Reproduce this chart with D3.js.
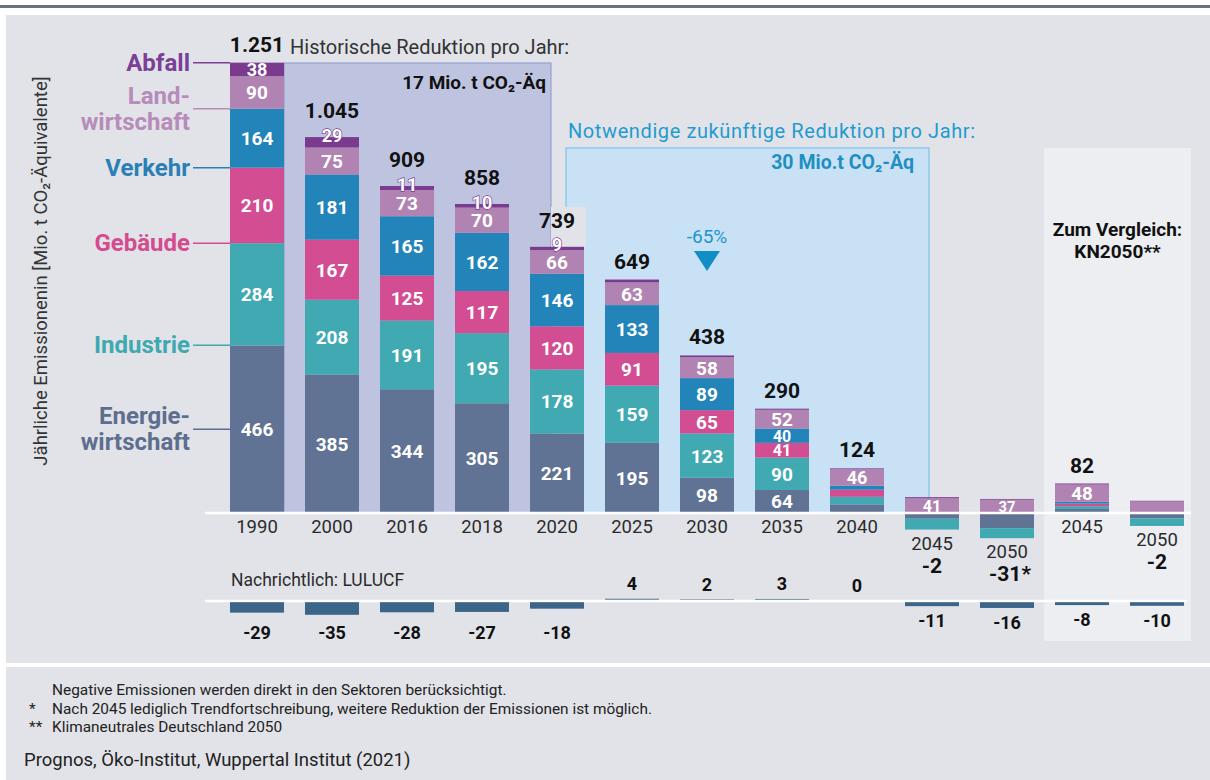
<!DOCTYPE html>
<html><head><meta charset="utf-8">
<script src="https://cdn.jsdelivr.net/npm/d3@7"></script>
<style>
body{margin:0;background:#fff;}
svg{display:block;font-family:Roboto,"Open Sans",sans-serif;}
</style></head><body>
<svg width="1210" height="780"></svg>
<script>
// Kategorien (KN = Vergleichsszenario KN2050)
const categories = ['1990','2000','2016','2018','2020','2025','2030','2035','2040','2045','2050','KN2045','KN2050'];
const yearLabels = ['1990','2000','2016','2018','2020','2025','2030','2035','2040','2045','2050','2045','2050'];
const historic = ['1990','2000','2016','2018','2020'];

// Sektoren, von unten nach oben
const sectors = ['Energiewirtschaft','Industrie','Gebäude','Verkehr','Landwirtschaft','Abfall'];
const sectorNames = [['Energie-','wirtschaft'],['Industrie'],['Gebäude'],['Verkehr'],['Land-','wirtschaft'],['Abfall']];
const sectorColors = ['#607394','#40a9b2','#d24d92','#2284b8','#b083b2','#7a3b8f'];
const sectorTextColors = ['#5d6e8e','#3fa9b0','#d44b8f','#2a80b6','#b78bba','#7b3f98'];

// Mio. t CO2-Äq
const energie        = [466,385,344,305,221,195, 98, 64,24,-16,-42,11,-15];
const industrie      = [284,208,191,195,178,159,123, 90,21,-30,-28, 8,-21];
const gebaeude       = [210,167,125,117,120, 91, 65, 41,20,  0,  0, 7,  0];
const verkehr        = [164,181,165,162,146,133, 89, 40,11,  0,  0, 5,  0];
const landwirtschaft = [ 90, 75, 73, 70, 66, 63, 58, 52,46, 41, 37,48, 32];
const abfall         = [ 38, 29, 11, 10,  9,  8,  5,  3, 2,  3,  2, 3,  2];
const totalLabels = ['1.251','1.045','909','858','739','649','438','290','124','-2','-31*','82','-2'];

// Nachrichtlich: LULUCF
const lulucf = [-29,-35,-28,-27,-18,4,2,3,0,-11,-16,-8,-10];

const futureBoxTop = 1015; // Höhe des Kastens "Notwendige Reduktion" in Mio. t

const rows = categories.map((c,i)=>({cat:c,
  'Energiewirtschaft':energie[i],'Industrie':industrie[i],'Gebäude':gebaeude[i],
  'Verkehr':verkehr[i],'Landwirtschaft':landwirtschaft[i],'Abfall':abfall[i]}));

const svg = d3.select('svg');
const baseY = 513, topY = 63, lulucfY = 601;

const x = d3.scaleBand().domain(categories).range([219.5,1194.5]).padding(0);
const cx = c => x(c) + x.bandwidth()/2;
const bw = 54;
const y = d3.scaleLinear().domain([0,1251]).range([baseY,topY]);
const k = y(0) - y(1);
const yL = v => lulucfY - v*k;

// Hintergrund
svg.append('rect').attr('x',0).attr('y',5).attr('width',1210).attr('height',3).attr('fill','#6b737c');
svg.append('rect').attr('x',6).attr('y',15).attr('width',1204).attr('height',648).attr('fill','#e1e3e8');
svg.append('rect').attr('x',6).attr('y',667).attr('width',1204).attr('height',113).attr('fill','#e1e3e8');

// Kästen
svg.append('rect').attr('x',cx('1990')+bw/2).attr('y',y(1251))
  .attr('width',cx('2020')-6-(cx('1990')+bw/2)).attr('height',baseY-y(1251))
  .attr('fill','#bec4e0').attr('stroke','#96a1d2').attr('stroke-width',1.2);
svg.append('rect').attr('x',cx('2020')+9).attr('y',y(futureBoxTop))
  .attr('width',cx('2045')-3-(cx('2020')+9)).attr('height',baseY-y(futureBoxTop))
  .attr('fill','#c9e1f5').attr('stroke','#7cc4ea').attr('stroke-width',1.2);
svg.append('rect').attr('x',cx('KN2045')-38).attr('y',y(futureBoxTop))
  .attr('width',cx('KN2050')+34-(cx('KN2045')-38)).attr('height',641-y(futureBoxTop))
  .attr('fill','#eceef2');

// Stapel
const series = d3.stack().keys(sectors).offset(d3.stackOffsetDiverging)(rows);
const i2020 = categories.indexOf('2020');
const pos = rows.map(r=>d3.sum(sectors,s=>Math.max(r[s],0)));
const neg = rows.map(r=>d3.sum(sectors,s=>Math.min(r[s],0)));

// Hinterlegung hinter "739"
svg.append('rect').attr('x',cx('2020')-6).attr('y',y(pos[i2020])-40)
  .attr('width',bw/2+8).attr('height',40).attr('fill','#e1e3e8');

const g = svg.append('g');
series.forEach((s,j)=>{
  g.append('g').selectAll('rect').data(s).enter().append('rect')
    .attr('x',d=>cx(d.data.cat)-bw/2)
    .attr('y',d=>y(Math.max(d[0],d[1])))
    .attr('width',bw)
    .attr('height',d=>Math.abs(y(d[0])-y(d[1])))
    .attr('fill',sectorColors[j]);
});

// Werte in den Segmenten (nur positive)
series.forEach((s,j)=>{
  if(j===5) return;
  g.append('g').selectAll('text').data(s.filter(d=>d[0]>=0 && d[1]-d[0]>=35)).enter().append('text')
    .attr('x',d=>cx(d.data.cat)).attr('y',d=>(y(d[0])+y(d[1]))/2+0.5)
    .attr('text-anchor','middle').attr('dominant-baseline','central')
    .attr('fill','#fff').attr('font-weight','bold')
    .attr('font-size',d=>Math.min(19,(d[1]-d[0])*k+1.5))
    .text(d=>d[1]-d[0]);
});
// Abfall
const outlined = abfall.map(v=>v>=9 && v*k<13);
series[5].forEach((d,i)=>{
  const v = abfall[i];
  if(v<9) return;
  const t = g.append('text').attr('x',cx(d.data.cat))
    .attr('text-anchor','middle').attr('dominant-baseline','central')
    .attr('font-weight','bold').attr('font-size',18).text(v);
  if(outlined[i]){
    t.attr('y',y(d[1])-2).attr('fill','#fff').attr('stroke','#7a3b8f')
     .attr('stroke-width',1.3).attr('paint-order','stroke');
  } else {
    t.attr('y',(y(d[0])+y(d[1]))/2).attr('fill','#fff');
  }
});

// Nulllinie
svg.append('line').attr('x1',205).attr('x2',1191).attr('y1',baseY).attr('y2',baseY)
  .attr('stroke','#fff').attr('stroke-width',2.5);

// Jahreszahlen und Summen
categories.forEach((c,i)=>{
  const yy = y(neg[i]) + 14;
  svg.append('text').attr('x',cx(c)).attr('y',yy)
    .attr('text-anchor','middle').attr('dominant-baseline','central')
    .attr('fill','#2b2b2b').attr('font-size',18.5).text(yearLabels[i]);
  const lbl = totalLabels[i];
  const ty = lbl.startsWith('-') ? yy + 22 : y(pos[i]) - 18 - (outlined[i]?8:0);
  svg.append('text').attr('x',cx(c)+(lbl.endsWith('*')?3:0)).attr('y',ty)
    .attr('text-anchor','middle').attr('dominant-baseline','central')
    .attr('fill','#111').attr('font-weight','bold').attr('font-size',21).text(lbl);
});

// LULUCF
svg.append('text').attr('x',231).attr('y',580).attr('dominant-baseline','central')
  .attr('fill','#2b2b2b').attr('font-size',17.5).text('Nachrichtlich: LULUCF');
svg.append('line').attr('x1',205).attr('x2',1187).attr('y1',lulucfY).attr('y2',lulucfY)
  .attr('stroke','#fff').attr('stroke-width',2.5);
svg.append('g').selectAll('rect').data(categories.filter((c,i)=>lulucf[i]!==0)).enter().append('rect')
  .attr('x',c=>cx(c)-bw/2)
  .attr('y',c=>{const v=lulucf[categories.indexOf(c)]; return v>0 ? yL(v)-1 : lulucfY+1.2;})
  .attr('width',bw)
  .attr('height',c=>Math.abs(lulucf[categories.indexOf(c)])*k)
  .attr('fill','#3b6589').attr('opacity',c=>lulucf[categories.indexOf(c)]>0?0.6:1);
categories.forEach((c,i)=>{
  const v = lulucf[i];
  let ly;
  if(v>=0) ly = yL(v) - 16;
  else ly = historic.includes(c) ? lulucfY + 31 : yL(v) + 16;
  svg.append('text').attr('x',cx(c)).attr('y',ly)
    .attr('text-anchor','middle').attr('dominant-baseline','central')
    .attr('fill','#111').attr('font-weight','bold').attr('font-size',18).text(v);
});

// Legende links am 1990er Balken
const anchor = [0.5,0,0,0,0,1];
series.forEach((s,j)=>{
  const d = s[0];
  const ly = y(d[0]) + (y(d[1])-y(d[0]))*anchor[j];
  svg.append('line').attr('x1',193).attr('x2',cx('1990')-bw/2).attr('y1',ly).attr('y2',ly)
    .attr('stroke',sectorTextColors[j]).attr('stroke-width',1.5);
  const lines = sectorNames[j];
  lines.forEach((t,m)=>{
    svg.append('text').attr('x',190).attr('y',ly + (m-(lines.length-1)/2)*26)
      .attr('text-anchor','end').attr('dominant-baseline','central')
      .attr('fill',sectorTextColors[j]).attr('font-weight','bold').attr('font-size',24).text(t);
  });
});

// Achsentitel
svg.append('text').attr('transform','translate(41,271) rotate(-90)')
  .attr('text-anchor','middle').attr('dominant-baseline','central')
  .attr('fill','#333').attr('font-size',18.5)
  .text('Jährliche Emissionenin [Mio. t CO₂-Äquivalente]');

// Anmerkungen
svg.append('text').attr('x',290).attr('y',47).attr('dominant-baseline','central')
  .attr('fill','#333').attr('font-size',20).text('Historische Reduktion pro Jahr:');
svg.append('text').attr('x',546).attr('y',82).attr('text-anchor','end').attr('dominant-baseline','central')
  .attr('fill','#111').attr('font-weight','bold').attr('font-size',19).text('17 Mio. t CO₂-Äq');
svg.append('text').attr('x',568).attr('y',131).attr('dominant-baseline','central')
  .attr('fill','#1f9bd1').attr('font-size',20).attr('letter-spacing',0.6)
  .text('Notwendige zukünftige Reduktion pro Jahr:');
svg.append('text').attr('x',914).attr('y',162).attr('text-anchor','end').attr('dominant-baseline','central')
  .attr('fill','#1f8fc1').attr('font-weight','bold').attr('font-size',19.5).text('30 Mio.t CO₂-Äq');
const x30 = cx('2030');
svg.append('text').attr('x',x30).attr('y',236).attr('text-anchor','middle').attr('dominant-baseline','central')
  .attr('fill','#1a96cc').attr('font-size',19).text('-65%');
svg.append('path').attr('d',`M${x30-13},251 L${x30+13},251 L${x30},271 Z`).attr('fill','#0f8fc6');
const xKN = (cx('KN2045')+cx('KN2050'))/2-2;
svg.append('text').attr('x',xKN).attr('y',229).attr('text-anchor','middle')
  .attr('dominant-baseline','central').attr('fill','#111').attr('font-weight','bold').attr('font-size',19)
  .text('Zum Vergleich:');
svg.append('text').attr('x',xKN).attr('y',251).attr('text-anchor','middle')
  .attr('dominant-baseline','central').attr('fill','#111').attr('font-weight','bold').attr('font-size',19)
  .text('KN2050**');

// Fußnoten
const notes = [['','Negative Emissionen werden direkt in den Sektoren berücksichtigt.'],
  ['*','Nach 2045 lediglich Trendfortschreibung, weitere Reduktion der Emissionen ist möglich.'],
  ['**','Klimaneutrales Deutschland 2050']];
notes.forEach((n,i)=>{
  svg.append('text').attr('x',29).attr('y',690+i*18.5).attr('dominant-baseline','central')
    .attr('fill','#222').attr('font-size',15.4).text(n[0]);
  svg.append('text').attr('x',52).attr('y',690+i*18.5).attr('dominant-baseline','central')
    .attr('fill','#222').attr('font-size',15.4).text(n[1]);
});
svg.append('text').attr('x',24).attr('y',760).attr('dominant-baseline','central')
  .attr('fill','#222').attr('font-size',18.5).text('Prognos, Öko-Institut, Wuppertal Institut (2021)');
</script>
</body></html>
